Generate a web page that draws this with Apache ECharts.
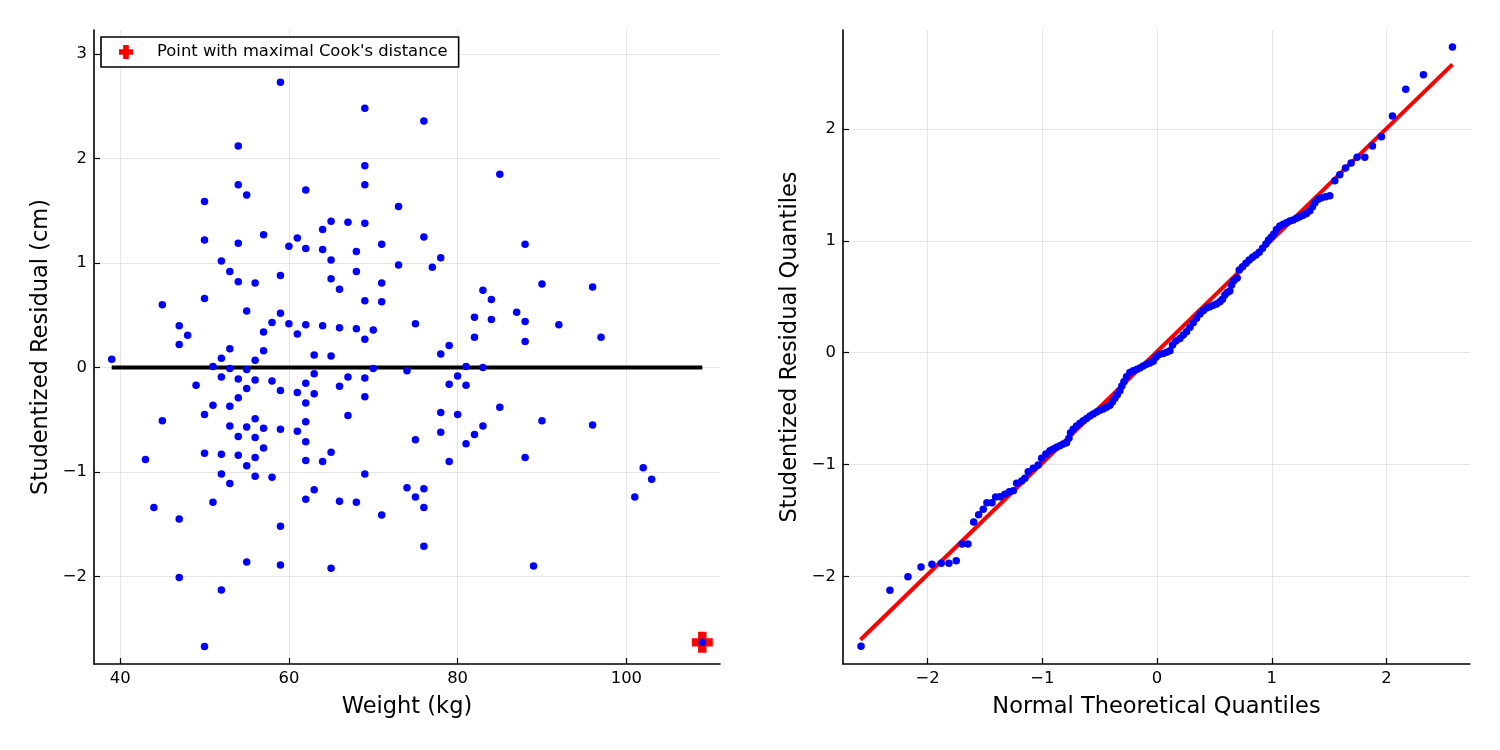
<!DOCTYPE html>
<html><head><meta charset="utf-8">
<script src="https://cdn.jsdelivr.net/npm/echarts@6/dist/echarts.min.js"></script>
<style>html,body{margin:0;padding:0;background:#fff}#c{width:1500px;height:750px}</style>
</head><body><div id="c"></div>
<script>
// ---- Left panel: studentized residuals vs weight ----
const weightKg = [
 39,43,44,45,45,47,47,47,47,48,49,
 50,50,50,50,50,50,51,51,51,52,52,52,52,52,52,
 53,53,53,53,53,53,54,54,54,54,54,54,54,54,
 55,55,55,55,55,55,55,56,56,56,56,56,56,56,
 57,57,57,57,57,58,58,58,59,59,59,59,59,59,59,
 60,60,61,61,61,61,62,62,62,62,62,62,62,62,62,
 63,63,63,63,64,64,64,64,65,65,65,65,65,65,
 66,66,66,66,67,67,67,68,68,68,68,
 69,69,69,69,69,69,69,69,69,70,70,71,71,71,71,
 73,73,74,74,75,75,75,76,76,76,76,76,77,
 78,78,78,78,79,79,79,80,80,81,81,81,82,82,82,83,83,83,
 84,84,85,85,87,88,88,88,88,89,90,90,92,96,96,97,101,102,103,109
];
const residualCm = [
 0.08,-0.88,-1.34,0.60,-0.51,0.40,0.22,-1.45,-2.01,0.31,-0.17,
 1.59,1.22,0.66,-0.45,-0.82,-2.67,0.01,-0.36,-1.29,1.02,0.09,-0.09,-0.83,-1.02,-2.13,
 0.92,0.18,-0.01,-0.37,-0.56,-1.11,2.12,1.75,1.19,0.82,-0.11,-0.29,-0.66,-0.84,
 1.65,0.54,-0.02,-0.20,-0.57,-0.94,-1.86,0.81,0.07,-0.12,-0.49,-0.67,-0.86,-1.04,
 1.27,0.34,0.16,-0.58,-0.77,0.43,-0.13,-1.05,2.73,0.88,0.52,-0.22,-0.59,-1.52,-1.89,
 1.16,0.42,1.24,0.32,-0.24,-0.61,1.70,1.14,0.41,-0.15,-0.34,-0.52,-0.71,-0.89,-1.26,
 0.12,-0.06,-0.25,-1.17,1.32,1.13,0.40,-0.90,1.40,1.03,0.85,0.11,-0.81,-1.92,
 0.75,0.38,-0.18,-1.28,1.39,-0.09,-0.46,1.11,0.92,0.37,-1.29,
 2.48,1.93,1.75,1.38,0.64,0.27,-0.10,-0.28,-1.02,0.36,-0.01,1.18,0.81,0.63,-1.41,
 1.54,0.98,-0.03,-1.15,0.42,-0.69,-1.24,2.36,1.25,-1.16,-1.34,-1.71,0.96,
 1.05,0.13,-0.43,-0.62,0.21,-0.16,-0.90,-0.08,-0.45,0.01,-0.17,-0.73,0.48,0.29,-0.64,0.74,0.00,-0.56,
 0.65,0.46,1.85,-0.38,0.53,1.18,0.44,0.25,-0.86,-1.90,0.80,-0.51,0.41,0.77,-0.55,0.29,-1.24,-0.96,-1.07,-2.63
];
const cookWeight = [109];
const cookResidual = [-2.63];
const zeroLineX = [39, 109];
const zeroLineY = [0, 0];
const leftXTicks = [40, 60, 80, 100];
const leftYTicks = [-2, -1, 0, 1, 2, 3];

// ---- Right panel: normal QQ plot ----
const qqTheoretical = [
 -2.580,-2.328,-2.171,-2.057,-1.962,-1.881,-1.814,-1.750,-1.700,-1.648,-1.598,-1.555,-1.515,-1.483,-1.439,-1.407,-1.369,-1.326,-1.288,-1.253,-1.224,-1.180,-1.152,-1.123,-1.079,-1.036,-1.006,-0.969,
 -0.934,-0.905,-0.876,-0.847,-0.818,-0.789,-0.768,-0.754,-0.731,-0.702,-0.672,-0.643,-0.614,-0.585,-0.556,-0.527,-0.498,-0.469,-0.440,-0.411,-0.388,-0.368,-0.347,-0.324,-0.307,-0.289,-0.266,-0.237,-0.208,-0.179,-0.150,-0.121,-0.092,-0.063,-0.034,-0.010,0.019,0.054,0.083,0.112,0.135,0.164,0.199,0.228,0.257,0.286,0.315,0.344,0.373,
 0.402,0.431,0.460,0.489,0.518,0.547,0.570,0.591,0.611,0.634,0.649,0.669,0.698,0.716,0.745,0.774,0.803,0.832,0.861,0.890,0.919,0.948,0.971,0.994,1.017,1.041,1.070,1.099,1.128,1.157,1.186,1.215,1.244,1.273,1.302,1.331,1.354,1.375,1.404,1.433,1.470,1.505,
 1.549,1.592,1.642,1.691,1.743,1.810,1.877,1.955,2.051,2.167,2.321,2.574
];
const qqSample = [
 -2.624,-2.123,-2.002,-1.915,-1.891,-1.882,-1.882,-1.859,-1.710,-1.710,-1.513,-1.448,-1.399,-1.340,-1.340,-1.290,-1.287,-1.265,-1.242,-1.233,-1.167,-1.147,-1.122,-1.063,-1.033,-1.004,-0.944,-0.905,
 -0.876,-0.861,-0.846,-0.831,-0.816,-0.804,-0.765,-0.715,-0.685,-0.655,-0.631,-0.607,-0.587,-0.566,-0.548,-0.530,-0.515,-0.503,-0.488,-0.470,-0.438,-0.408,-0.375,-0.339,-0.298,-0.259,-0.214,-0.178,-0.161,-0.149,-0.137,-0.119,-0.104,-0.092,-0.077,-0.041,-0.015,-0.006,0.003,0.018,0.069,0.105,0.128,0.158,0.188,0.227,0.268,0.307,0.346,
 0.376,0.399,0.411,0.423,0.435,0.456,0.477,0.516,0.539,0.551,0.605,0.644,0.668,0.739,0.769,0.799,0.828,0.852,0.873,0.897,0.933,0.971,1.007,1.031,1.061,1.102,1.132,1.147,1.162,1.177,1.186,1.201,1.216,1.228,1.245,1.269,1.305,1.341,1.371,1.385,1.394,1.403,
 1.537,1.591,1.651,1.695,1.746,1.746,1.847,1.931,2.115,2.354,2.485,2.732
];
const qqLineX = [-2.585, 2.574];
const qqLineY = [-2.565, 2.577];
const rightXTicks = [-2, -1, 0, 1, 2];
const rightYTicks = [-2, -1, 0, 1, 2];

const FONT = 'DejaVu Sans';
const CROSS = 'path://M3,0H7V3H10V7H7V10H3V7H0V3H3Z';
const zip = (a, b) => a.map((v, i) => [v, b[i]]);
const fmt = v => String(v).replace('-', '\u2212');

function axis(gridIndex, min, max, ticks, name, nameGap) {
  return {
    type: 'value', gridIndex, min, max, name, nameGap,
    nameLocation: 'middle',
    nameTextStyle: { fontFamily: FONT, fontSize: 22.5, color: '#000' },
    axisLine: { show: true, onZero: false, lineStyle: { color: '#000', width: 1.6 } },
    axisTick: { show: true, inside: true, length: 6, customValues: ticks, lineStyle: { color: '#000', width: 1.2 } },
    axisLabel: { customValues: ticks, formatter: fmt, color: '#000', fontFamily: FONT, fontSize: 16.4, margin: 7 },
    splitLine: { show: true, lineStyle: { color: '#e5e5e5', width: 1 } }
  };
}

const chart = echarts.init(document.getElementById('c'));
chart.setOption({
  animation: false,
  backgroundColor: '#fff',
  grid: [
    { left: 94, top: 30, width: 626, height: 634 },
    { left: 843, top: 30, width: 627, height: 634 }
  ],
  xAxis: [
    axis(0, 36.9, 111.1, leftXTicks, 'Weight (kg)', 32),
    axis(1, -2.737, 2.727, rightXTicks, 'Normal Theoretical Quantiles', 32)
  ],
  yAxis: [
    axis(0, -2.837, 3.23, leftYTicks, 'Studentized Residual (cm)', 41),
    axis(1, -2.782, 2.884, rightYTicks, 'Studentized Residual Quantiles', 41)
  ],
  legend: {
    left: 101, top: 37,
    orient: 'vertical',
    data: [{ name: "Point with maximal Cook's distance", icon: CROSS }],
    itemWidth: 46, itemHeight: 14, itemGap: 0,
    padding: [5, 11, 5, 18],
    borderColor: '#000', borderWidth: 1.6, borderRadius: 0,
    backgroundColor: '#fff',
    textStyle: { fontFamily: FONT, fontSize: 16.4, color: '#000', lineHeight: 20, padding: [0, 0, 0, 3] },
    selectedMode: false
  },
  series: [
    { type: 'line', xAxisIndex: 0, yAxisIndex: 0, data: zip(zeroLineX, zeroLineY), symbol: 'none',
      lineStyle: { color: '#000', width: 4 }, z: 1, silent: true },
    { name: "Point with maximal Cook's distance", type: 'scatter', xAxisIndex: 0, yAxisIndex: 0,
      data: zip(cookWeight, cookResidual), symbol: CROSS, symbolSize: 21,
      itemStyle: { color: '#ff0000', opacity: 1 }, z: 2 },
    { type: 'scatter', xAxisIndex: 0, yAxisIndex: 0, data: zip(weightKg, residualCm),
      symbol: 'circle', symbolSize: 7.5, itemStyle: { color: '#0000ff', opacity: 1 }, z: 3 },
    { type: 'line', xAxisIndex: 1, yAxisIndex: 1, data: zip(qqLineX, qqLineY), symbol: 'none',
      lineStyle: { color: '#ff0000', width: 4 }, z: 1, silent: true },
    { type: 'scatter', xAxisIndex: 1, yAxisIndex: 1, data: zip(qqTheoretical, qqSample),
      symbol: 'circle', symbolSize: 7.5, itemStyle: { color: '#0000ff', opacity: 1 }, z: 3 }
  ]
});
</script></body></html>
